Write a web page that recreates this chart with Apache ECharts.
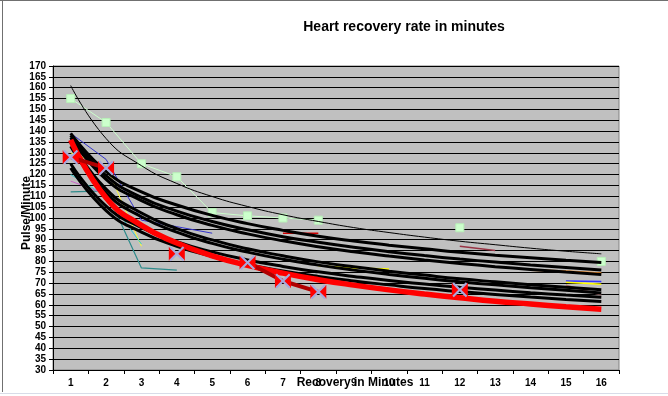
<!DOCTYPE html>
<html><head><meta charset="utf-8">
<script src="https://cdn.jsdelivr.net/npm/echarts@6/dist/echarts.min.js"></script>
<style>html,body{margin:0;padding:0;background:#fff}#c{width:668px;height:396px}</style>
</head><body><div id="c"></div>
<script>
const categories = ['1','2','3','4','5','6','7','8','9','10','11','12','13','14','15','16'];
const yMin = 30, yMax = 170, yStep = 5;
// measured data series
const greenSquares = [155,144,125,119,102.5,101,100,99,null,null,null,95.5,null,null,null,80];
const redMarkers   = [128,123,null,83.5,null,79.5,71,66,null,null,null,67,null,null,null,null];
const blueA   = [139,127,99,96,93,null,null,null,null,null,null,null,null,null,null,null];
const tealA   = [112,112.5,77,76,null,null,null,null,null,null,null,null,null,null,null,null];
const yellowA = [130,124,87,null,null,null,null,null,null,null,null,null,null,null,null,null];
const cyanA   = [120,110,88,null,null,null,null,null,null,null,null,null,null,null,null,null];
const magentaA= [117,111,null,null,null,null,null,null,null,null,null,null,null,null,null,null];
const redShort    = [null,null,null,null,null,null,93,93,null,null,null,null,null,null,null,null];
const maroonShort = [null,null,null,null,null,null,null,null,null,null,null,87,85,null,null,null];
const orangeA = [null,null,null,null,null,null,null,null,null,null,null,null,null,76,75.5,74.5];
const blueB   = [null,null,null,null,null,null,null,null,null,null,null,null,null,null,71,70.7];
const yellowB = [null,null,null,null,null,null,null,78,77,76.5,null,null,null,null,70.4,69.5];
const brownB  = [null,null,null,null,null,null,null,null,null,null,null,null,null,null,69,64.5];
// trend lines
const thinTrend = [161,136.6,124.1,115.9,109.9,105.3,101.5,98.4,95.6,93.3,91.2,89.3,87.7,86.1,84.7,83.5];
const redTrend  = [136,109.3,96.6,88.5,82.6,78.2,74.6,71.6,69.1,66.9,65.0,63.3,61.7,60.4,59.1,58.0];
const k1 = [139,121.5,112.0,106.0,101.2,97.4,94.3,91.6,89.4,87.5,85.8,84.2,82.9,81.7,80.5,79.5];
const k2 = [138,119.5,109.5,103.2,98.4,94.6,91.4,88.8,86.5,84.5,82.7,81.1,79.7,78.4,77.2,76.0];
const k3 = [137,117.8,108.0,101.5,96.6,92.7,89.5,86.8,84.5,82.5,80.7,79.1,77.6,76.3,75.1,74.0];
const k4 = [135,113.3,102.3,95.1,89.9,85.8,82.6,79.8,77.5,75.5,73.7,72.0,70.6,69.3,68.1,67.0];
const k5 = [133,111.5,100.6,93.5,88.3,84.3,81.0,78.3,76.0,74.0,72.2,70.6,69.2,67.9,66.7,65.5];
const k6 = [125,105.5,95.6,89.1,84.4,80.7,77.7,75.2,73.1,71.2,69.6,68.1,66.8,65.6,64.5,63.5];
const k7 = [123,103.4,93.5,87.0,82.3,78.6,75.6,73.1,71.0,69.2,67.5,66.1,64.8,63.6,62.5,61.5];

const FONT = 'Arial, "Liberation Sans", sans-serif';
function thin(data, color, w) {
  return {type:'line', data, symbol:'none', connectNulls:false, lineStyle:{color, width:w||1}, silent:true, z:3};
}
function trend(data, color, w, z) {
  return {type:'line', data, symbol:'none', smooth:0.5, lineStyle:{color, width:w}, silent:true, z:z||4};
}
const bowtie = 'path://M0,0 L10,7 L0,14 Z M20,0 L10,7 L20,14 Z';
const xmark  = 'path://M0,2 L2,0 L10,8 L18,0 L20,2 L12,10 L20,18 L18,20 L10,12 L2,20 L0,18 L8,10 Z';

const chart = echarts.init(document.getElementById('c'));
chart.setOption({
  animation:false,
  backgroundColor:'#fff',
  title:{text:'Heart recovery rate in minutes', left:399, top:15, textAlign:'center',
    textStyle:{fontFamily:FONT, fontSize:14, fontWeight:'bold', color:'#000'}},
  grid:{left:53, right:49, top:66, bottom:26, show:true, backgroundColor:'#C0C0C0', borderColor:'#808080', borderWidth:1},
  xAxis:{type:'category', data:categories, boundaryGap:true,
    axisLine:{lineStyle:{color:'#000', width:1}},
    axisTick:{show:true, alignWithLabel:false, length:4, lineStyle:{color:'#000'}},
    axisLabel:{fontFamily:FONT, fontSize:10, fontWeight:'bold', color:'#000', margin:8},
    splitLine:{show:false}},
  yAxis:{type:'value', min:yMin, max:yMax, interval:yStep,
    axisLine:{show:true, lineStyle:{color:'#000', width:1}},
    axisTick:{show:true, length:4, lineStyle:{color:'#000'}},
    axisLabel:{fontFamily:FONT, fontSize:10, fontWeight:'bold', color:'#000', margin:7},
    splitLine:{show:true, lineStyle:{color:'#000', width:1}}},
  graphic:[
    {type:'line', shape:{x1:0,y1:0.5,x2:668,y2:0.5}, style:{stroke:'#707070', lineWidth:1}},
    {type:'line', shape:{x1:2.5,y1:0,x2:2.5,y2:392}, style:{stroke:'#707070', lineWidth:1}},
    {type:'line', shape:{x1:0,y1:393.5,x2:668,y2:393.5}, style:{stroke:'#D8DCE8', lineWidth:1}},
    {type:'text', rotation:Math.PI/2, x:27, y:213,
      style:{text:'Pulse/Minute', font:'bold 12px '+FONT, fill:'#000', textAlign:'center', textVerticalAlign:'middle'}},
    {type:'text', x:355, y:383,
      style:{text:'Recovery in Minutes', font:'bold 12px '+FONT, fill:'#000', textAlign:'center', textVerticalAlign:'middle'}, z:100}
  ],
  series:[
    {type:'line', data:greenSquares, symbol:'rect', symbolSize:8, connectNulls:false,
      itemStyle:{color:'#CCFFCC', borderColor:'#B8F0B8', borderWidth:1}, lineStyle:{color:'#CCFFCC', width:1}, z:2},
    thin(blueA,'#3333CC'), thin(tealA,'#2E8B8B',1.2), thin(yellowA,'#FFFF33'), thin(cyanA,'#33CCCC'),
    thin(magentaA,'#CC66CC'), thin(redShort,'#CC0000',1.5), thin(maroonShort,'#993344',1.5),
    thin(orangeA,'#FF9933',2), thin(blueB,'#3333FF',1.5), thin(yellowB,'#FFFF00',1.5), thin(brownB,'#996666',1.5),
    trend(thinTrend,'#000',1,3),
    trend(k1,'#000',3), trend(k2,'#000',3), trend(k3,'#000',3), trend(k4,'#000',3),
    trend(k5,'#000',3), trend(k6,'#000',3), trend(k7,'#000',3),
    trend(redTrend,'#FF0000',5.5,5),
    {type:'line', data:redMarkers, symbol:bowtie, symbolSize:[16,14], connectNulls:false,
      itemStyle:{color:'#FF0000'}, lineStyle:{color:'#B00000', width:4}, z:6},
    {type:'line', data:redMarkers, symbol:xmark, symbolSize:15, connectNulls:false,
      itemStyle:{color:'#A8A8DC'}, lineStyle:{width:0, opacity:0}, z:7}
  ]
});
</script></body></html>
